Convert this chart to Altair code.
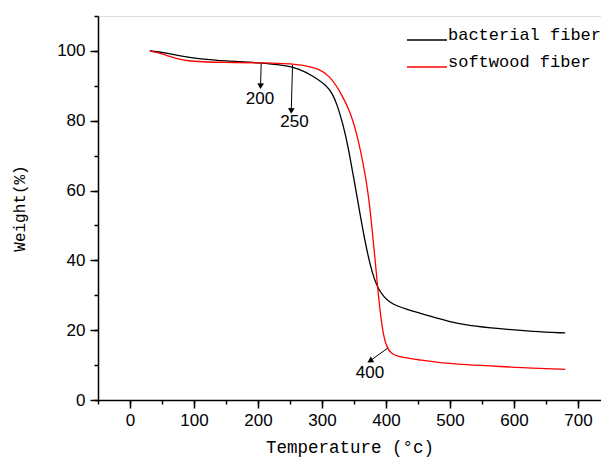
import altair as alt
import pandas as pd

# Bacterial fiber TGA curve (temperature in °C, weight in %)
bact_T = [31, 58, 80, 109, 150, 203, 240, 266, 286, 308, 316, 323, 333, 341, 348, 356, 364, 375, 387, 406, 430, 473, 500, 527, 578, 630, 680]
bact_W = [100, 99.4, 98.5, 97.7, 97.1, 96.6, 95.9, 94.8, 92.8, 90.0, 87.8, 85.0, 79.0, 72.4, 65.2, 57.0, 48.5, 38.5, 31.5, 27.6, 26.1, 23.8, 22.4, 21.4, 20.4, 19.6, 19.2]
# Softwood fiber TGA curve
soft_T = [31, 50, 70, 94, 150, 203, 266, 297, 312, 328, 344, 356, 367, 372, 378, 383, 387, 391, 396, 401, 408, 420, 453, 473, 527, 578, 630, 680]
soft_W = [100, 99.2, 97.9, 96.9, 96.7, 96.6, 96.3, 94.8, 92.8, 88.5, 82.8, 75.3, 65.2, 59.5, 49.7, 40.2, 32.2, 25.0, 18.5, 15.2, 13.3, 12.3, 11.5, 10.9, 10.1, 9.6, 9.1, 8.8]

series_names = ["bacterial fiber", "softwood fiber"]
series_colors = ["#000000", "#ff0000"]

# Annotations (arrow start, arrow end, label)
ann_labels = ["200", "250", "400"]
ann_x1 = [205, 254, 403]
ann_y1 = [96.3, 96.0, 14.9]
ann_x2 = [204, 252, 375]
ann_y2 = [89.9, 82.8, 11.2]
ann_tx = [203, 257, 375]
ann_ty = [86.2, 79.6, 7.8]
ann_angle = [182, 182, 239]

x_major = list(range(0, 701, 100))
x_minor = list(range(-50, 736, 50))
y_major = list(range(0, 101, 20))
y_minor = list(range(0, 111, 10))

rows = []
for t, w in zip(bact_T, bact_W):
    rows.append({"T": t, "W": w, "series": series_names[0]})
for t, w in zip(soft_T, soft_W):
    rows.append({"T": t, "W": w, "series": series_names[1]})
df = pd.DataFrame(rows)

ann = pd.DataFrame({"label": ann_labels, "x1": ann_x1, "y1": ann_y1, "x2": ann_x2,
                    "y2": ann_y2, "tx": ann_tx, "ty": ann_ty, "angle": ann_angle})

xscale = alt.Scale(domain=[-50, 736], nice=False, zero=False)
yscale = alt.Scale(domain=[0, 110], nice=False)

common = dict(grid=False, domainColor="#000", tickColor="#000", domainWidth=1.5, tickWidth=1.5)

xaxis = alt.Axis(
    values=x_major, title="Temperature (°c)", orient="bottom", tickSize=8,
    labelFont="Liberation Sans", labelFontSize=17, labelColor="#000", labelPadding=4,
    labelOverlap=False,
    titleFont="Liberation Mono", titleFontSize=17.5, titleFontWeight="normal", titleColor="#000",
    titlePadding=10, **common,
)
yaxis = alt.Axis(
    values=y_major, title="Weight(%)", orient="left", tickSize=8,
    labelFont="Liberation Sans", labelFontSize=17, labelColor="#000", labelPadding=5,
    labelOverlap=False,
    titleFont="Liberation Mono", titleFontSize=16, titleFontWeight="normal", titleColor="#000",
    titlePadding=29, **common,
)
xaxis_minor = alt.Axis(values=x_minor, orient="bottom", tickSize=4, labels=False, domain=False,
                       title=None, grid=False, tickColor="#000", tickWidth=1.5)
yaxis_minor = alt.Axis(values=y_minor, orient="left", tickSize=4, labels=False, domain=False,
                       title=None, grid=False, tickColor="#000", tickWidth=1.5)

lines = alt.Chart(df).mark_line(strokeWidth=1.3, interpolate="basis").encode(
    x=alt.X("T:Q", scale=xscale, axis=xaxis),
    y=alt.Y("W:Q", scale=yscale, axis=yaxis),
    color=alt.Color("series:N", scale=alt.Scale(domain=series_names, range=series_colors),
                    legend=alt.Legend(
                        title=None, orient="none", legendX=308, legendY=3,
                        symbolType="stroke", symbolSize=1600, symbolStrokeWidth=1.3,
                        labelFont="Liberation Mono", labelFontSize=17, labelColor="#000",
                        labelOffset=0, labelBaseline="alphabetic", rowPadding=3,
                    )),
)

arrows = alt.Chart(ann).mark_rule(color="#000", strokeWidth=1).encode(
    x=alt.X("x1:Q", scale=xscale, axis=xaxis_minor),
    y=alt.Y("y1:Q", scale=yscale, axis=yaxis_minor),
    x2="x2:Q", y2="y2:Q",
)
heads = alt.Chart(ann).mark_point(shape="triangle-up", filled=True, color="#000", size=45, opacity=1).encode(
    x=alt.X("x2:Q", scale=xscale, axis=None),
    y=alt.Y("y2:Q", scale=yscale, axis=None),
    angle=alt.Angle("angle:Q", scale=None),
)
labels = alt.Chart(ann).mark_text(font="Liberation Sans", fontSize=17, color="#000").encode(
    x=alt.X("tx:Q", scale=xscale, axis=None),
    y=alt.Y("ty:Q", scale=yscale, axis=None),
    text="label:N",
)

chart = alt.layer(lines, arrows, heads, labels).resolve_axis(
    x="independent", y="independent"
).properties(
    width=503, height=384,
    autosize=alt.AutoSizeParams(type="none"),
    padding={"left": 90, "top": 8, "right": 0, "bottom": 57},
).configure_view(stroke=None).configure(background="white")

chart.save("out.html", embed_options={"renderer": "svg", "actions": False})
